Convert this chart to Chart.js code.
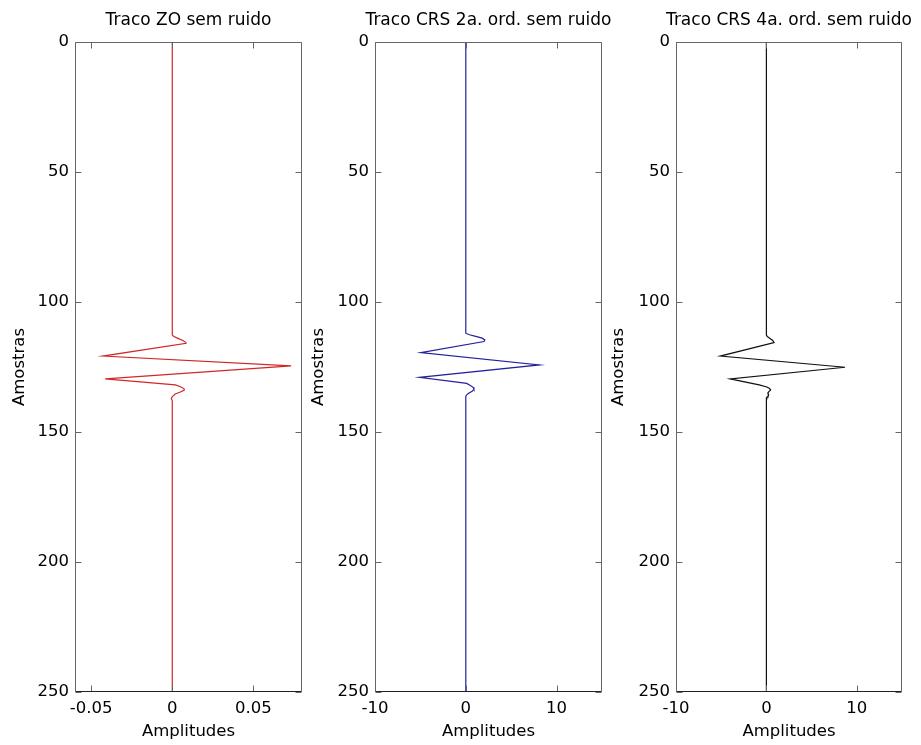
<!DOCTYPE html>
<html>
<head>
<meta charset="utf-8">
<title>Tracos sem ruido</title>
<script src="https://cdn.jsdelivr.net/npm/chart.js@4/dist/chart.umd.min.js"></script>
<style>
  body { margin: 0; background: #fff; }
  canvas { position: absolute; top: 0; }
</style>
</head>
<body>
<canvas id="trace-zo" width="307" height="745" style="left:0"></canvas>
<canvas id="trace-crs2" width="320" height="745" style="left:307px"></canvas>
<canvas id="trace-crs4" width="314" height="745" style="left:607px"></canvas>
<script>
/* global Chart */

// amostras (eixo vertical) e amplitudes
const samplesZO = [0, 112.7, 113.3, 114, 114.8, 115.5, 115.9, 120.8, 124.6, 129.6, 131.9, 132.6, 133.3, 133.9, 134.6, 135.4, 136.4, 137.2, 138, 250]
const ampsZO = [0, 0, 0.001, 0.0035, 0.0065, 0.0082, 0.0085, -0.0428, 0.0733, -0.0414, 0.0019, 0.005, 0.0072, 0.0074, 0.005, 0.0018, 0, -0.0006, 0, 0]

const samplesCRS2 = [0, 112, 112.6, 113.2, 113.9, 114.6, 115.2, 119.5, 124.2, 129, 131.3, 132, 132.8, 133.6, 134.3, 135, 135.7, 136.3, 250]
const ampsCRS2 = [0, 0, 0.4, 1.1, 1.8, 2.1, 2.0, -4.95, 8.1, -5.1, 0.1, 0.45, 0.8, 0.9, 0.7, 0.35, 0.1, 0, 0]

const samplesCRS4 = [0, 112.7, 113.3, 114, 114.8, 115.6, 120.8, 125.1, 129.6, 131.9, 132.7, 133.3, 133.8, 134.4, 135, 135.6, 136.2, 136.8, 250]
const ampsCRS4 = [0, 0, 0.1, 0.4, 0.7, 0.84, -5.1, 8.7, -4.0, -0.8, 0.05, 0.35, 0.47, 0.3, 0.15, 0.25, 0.2, 0, 0]

const yTicks = [0, 50, 100, 150, 200, 250]
const xTicksZO = [-0.05, 0, 0.05]
const xTickLabelsZO = ['-0.05', '0', '0.05']
const xTicksCRS = [-10, 0, 10]
const xTickLabelsCRS = ['-10', '0', '10']

const FONT = 'DejaVu Sans'

// titulo centrado na area do grafico, sem limite de largura
const panelTitle = {
  id: 'panelTitle',
  afterDraw (chart, args, opts) {
    const { ctx, chartArea: a } = chart
    ctx.save()
    ctx.fillStyle = '#000'
    ctx.font = '17px "' + FONT + '"'
    ctx.textAlign = 'center'
    ctx.textBaseline = 'middle'
    ctx.fillText(opts.text, (a.left + a.right) / 2, 21)
    ctx.restore()
  }
}

// caixa estilo MATLAB com marcas para dentro
const matlabBox = {
  id: 'matlabBox',
  afterDatasetsDraw (chart) {
    const { ctx, chartArea: a, scales } = chart
    const l = Math.round(a.left) + 0.5
    const r = Math.round(a.right) - 0.5
    const t = Math.round(a.top) + 0.5
    const b = Math.round(a.bottom) - 0.5
    ctx.save()
    ctx.lineWidth = 1
    ctx.strokeStyle = '#666'
    ctx.beginPath()
    scales.x.ticks.forEach(tk => {
      const px = Math.round(scales.x.getPixelForValue(tk.value)) + 0.5
      ctx.moveTo(px, b); ctx.lineTo(px, b - 6)
      ctx.moveTo(px, t); ctx.lineTo(px, t + 6)
    })
    scales.y.ticks.forEach(tk => {
      const py = Math.round(scales.y.getPixelForValue(tk.value)) + 0.5
      ctx.moveTo(l, py); ctx.lineTo(l + 6, py)
      ctx.moveTo(r, py); ctx.lineTo(r - 6, py)
    })
    ctx.moveTo(l, b); ctx.lineTo(l, t); ctx.lineTo(r, t); ctx.lineTo(r, b)
    ctx.stroke()
    ctx.strokeStyle = '#222'
    ctx.beginPath()
    ctx.moveTo(l, b); ctx.lineTo(r, b)
    ctx.stroke()
    ctx.restore()
  }
}

class TracePanel {
  constructor (elementId, options) {
    this.elementId = elementId
    this.options = Object.assign({}, options)
    const o = this.options
    const points = o.samples.map((s, i) => ({ x: o.amps[i], y: s }))
    const config = {
      type: 'scatter',
      data: {
        datasets: [{
          data: points,
          showLine: true,
          borderColor: o.color,
          borderWidth: 1.2,
          pointRadius: 0,
          tension: 0
        }]
      },
      options: {
        responsive: false,
        animation: false,
        layout: { padding: { left: 0, right: o.rightPad, top: 42, bottom: 0 } },
        plugins: {
          legend: { display: false },
          tooltip: { enabled: false },
          title: { display: false },
          panelTitle: { text: o.title }
        },
        scales: {
          x: {
            type: 'linear',
            min: o.xMin,
            max: o.xMax,
            afterBuildTicks: s => { s.ticks = o.xTicks.map(v => ({ value: v })) },
            afterFit: s => { s.height = 53 },
            grid: { display: false, drawTicks: false },
            border: { display: false },
            ticks: {
              color: '#000',
              padding: 7,
              maxRotation: 0,
              autoSkip: false,
              font: { family: FONT, size: 16.5 },
              callback: (v, i) => o.xTickLabels[i]
            },
            title: {
              display: true,
              text: 'Amplitudes',
              color: '#000',
              font: { family: FONT, size: 16.5 },
              padding: { top: 0, bottom: 3.8 }
            }
          },
          y: {
            type: 'linear',
            reverse: true,
            min: 0,
            max: 250,
            afterBuildTicks: s => { s.ticks = yTicks.map(v => ({ value: v })) },
            afterFit: s => { s.width = o.yWidth },
            grid: { display: false, drawTicks: false },
            border: { display: false },
            ticks: {
              color: '#000',
              padding: 6,
              autoSkip: false,
              font: { family: FONT, size: 16.5 }
            },
            title: {
              display: true,
              text: 'Amostras',
              color: '#000',
              font: { family: FONT, size: 16.5 },
              padding: { top: o.yTitlePad, bottom: 0 }
            }
          }
        }
      },
      plugins: [matlabBox, panelTitle]
    }
    this.chart = new Chart(document.getElementById(this.elementId), config)
  }
}

new TracePanel('trace-zo', {
  title: 'Traco ZO sem ruido',
  samples: samplesZO,
  amps: ampsZO,
  color: '#d02828',
  xMin: -0.06,
  xMax: 0.08,
  xTicks: xTicksZO,
  xTickLabels: xTickLabelsZO,
  yWidth: 75,
  rightPad: 5,
  yTitlePad: 9.6
})

new TracePanel('trace-crs2', {
  title: 'Traco CRS 2a. ord. sem ruido',
  samples: samplesCRS2,
  amps: ampsCRS2,
  color: '#22229a',
  xMin: -10,
  xMax: 15,
  xTicks: xTicksCRS,
  xTickLabels: xTickLabelsCRS,
  yWidth: 68,
  rightPad: 25,
  yTitlePad: 2.1
})

new TracePanel('trace-crs4', {
  title: 'Traco CRS 4a. ord. sem ruido',
  samples: samplesCRS4,
  amps: ampsCRS4,
  color: '#111111',
  xMin: -10,
  xMax: 15,
  xTicks: xTicksCRS,
  xTickLabels: xTickLabelsCRS,
  yWidth: 69,
  rightPad: 19,
  yTitlePad: 2.1
})
</script>
</body>
</html>
